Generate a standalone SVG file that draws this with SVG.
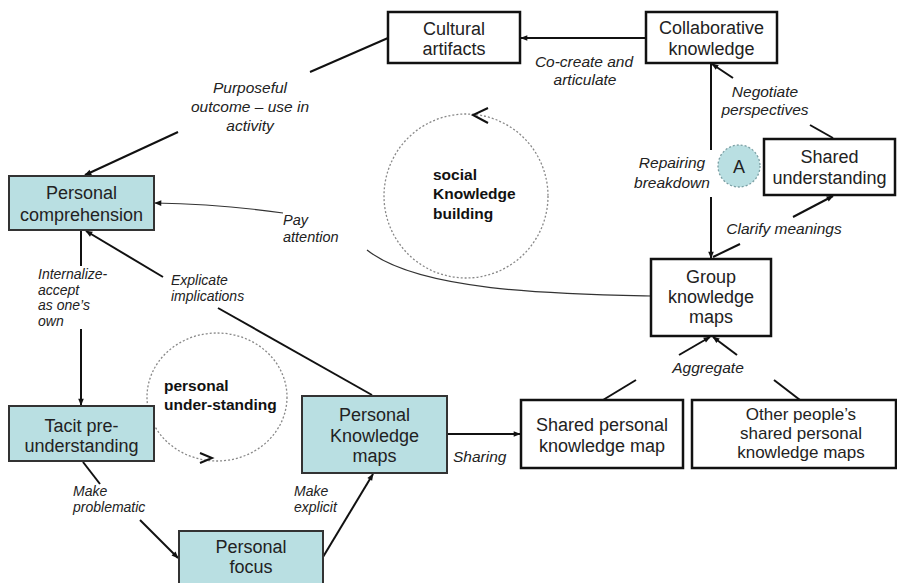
<svg xmlns="http://www.w3.org/2000/svg" width="897" height="583" viewBox="0 0 897 583">
<defs>
<marker id="ah" viewBox="0 0 10 10" refX="9" refY="5" markerWidth="8" markerHeight="7" markerUnits="userSpaceOnUse" orient="auto">
<path d="M0,1 L10,5 L0,9 Z" fill="#111"/>
</marker>
<style>
.wb{fill:#fff;stroke:#111;stroke-width:2.5}
.tb{fill:#b9dfe2;stroke:#333;stroke-width:2}
.nt{font-family:"Liberation Sans",Arial,sans-serif;font-size:18px;fill:#222;text-anchor:middle}
.lb{font-family:"Liberation Sans",Arial,sans-serif;font-size:15.5px;font-style:italic;fill:#222}
.tl{font-size:14px}
.c{text-anchor:middle}
.bd{font-family:"Liberation Sans",Arial,sans-serif;font-size:15.5px;font-weight:bold;fill:#111}
.ln{fill:none;stroke:#111;stroke-width:2}
.th{fill:none;stroke:#333;stroke-width:1.2}
.dc{fill:none;stroke:#888;stroke-width:1.3;stroke-dasharray:2,2}
</style>
</defs>
<rect width="897" height="583" fill="#fff"/>

<g id="connectors">
<line class="ln" x1="646" y1="38" x2="521" y2="38" marker-end="url(#ah)"/>
<line class="ln" x1="388" y1="38" x2="310" y2="72"/>
<line class="ln" x1="178" y1="132" x2="85" y2="175" marker-end="url(#ah)"/>
<line class="ln" x1="833" y1="138" x2="810" y2="125"/>
<line class="ln" x1="733" y1="78" x2="712" y2="64" marker-end="url(#ah)"/>
<line class="ln" x1="711" y1="63" x2="711" y2="150"/>
<line class="ln" x1="711" y1="197" x2="711" y2="258" marker-end="url(#ah)"/>
<line class="ln" x1="713" y1="257" x2="740" y2="244"/>
<line class="ln" x1="793" y1="217" x2="833" y2="196" marker-end="url(#ah)"/>
<path class="th" d="M651,296 C560,294 420,292 367,250"/>
<path class="th" d="M283,213 Q220,204 155,203" marker-end="url(#ah)"/>
<line class="ln" x1="372" y1="395" x2="218" y2="308"/>
<line class="ln" x1="163" y1="277" x2="86" y2="231" marker-end="url(#ah)"/>
<line class="ln" x1="81" y1="230" x2="81" y2="266"/>
<line class="ln" x1="81" y1="329" x2="81" y2="405" marker-end="url(#ah)"/>
<line class="ln" x1="83" y1="462" x2="100" y2="484"/>
<line class="ln" x1="140" y1="520" x2="178" y2="558" marker-end="url(#ah)"/>
<line class="ln" x1="323" y1="557" x2="373" y2="474" marker-end="url(#ah)"/>
<line class="ln" x1="447" y1="434" x2="520" y2="434" marker-end="url(#ah)"/>
<line class="ln" x1="603" y1="400" x2="636" y2="380"/>
<line class="ln" x1="679" y1="355" x2="710" y2="337" marker-end="url(#ah)"/>
<line class="ln" x1="800" y1="400" x2="774" y2="380"/>
<line class="ln" x1="737" y1="355" x2="713" y2="337" marker-end="url(#ah)"/>
</g>

<g id="labels">
<text class="lb c" x="584" y="67">Co-create and</text>
<text class="lb c" x="585" y="85">articulate</text>
<text class="lb c" x="250" y="93">Purposeful</text>
<text class="lb c" x="250" y="112">outcome – use in</text>
<text class="lb c" x="250" y="131">activity</text>
<text class="lb c" x="765" y="97">Negotiate</text>
<text class="lb c" x="765" y="115">perspectives</text>
<text class="lb c" x="672" y="168">Repairing</text>
<text class="lb c" x="672" y="188">breakdown</text>
<text class="lb c" x="784" y="234">Clarify meanings</text>
<text class="lb" x="283" y="225" style="font-size:14.5px">Pay</text>
<text class="lb" x="283" y="242" style="font-size:14.5px">attention</text>
<text class="lb tl" x="38" y="279">Internalize-</text>
<text class="lb tl" x="38" y="294.5">accept</text>
<text class="lb tl" x="38" y="310">as one’s</text>
<text class="lb tl" x="38" y="325.5">own</text>
<text class="lb tl" x="171" y="285">Explicate</text>
<text class="lb tl" x="171" y="301">implications</text>
<text class="lb tl" x="73" y="496">Make</text>
<text class="lb tl" x="73" y="512">problematic</text>
<text class="lb tl" x="294" y="496">Make</text>
<text class="lb tl" x="294" y="512">explicit</text>
<text class="lb c" x="708" y="373">Aggregate</text>
<text class="lb" x="453" y="462">Sharing</text>
</g>

<g id="social-cycle">
<circle class="dc" cx="466" cy="196" r="82"/>
<path d="M488,108 L473,115 L488,123" fill="none" stroke="#111" stroke-width="2"/>
<text class="bd" x="433" y="180">social</text>
<text class="bd" x="433" y="199">Knowledge</text>
<text class="bd" x="433" y="219">building</text>
</g>

<g id="personal-cycle">
<ellipse class="dc" cx="217" cy="397" rx="70" ry="64"/>
<path d="M200,453 L212,458 L200,463" fill="none" stroke="#111" stroke-width="2"/>
<text class="bd" x="164" y="391">personal</text>
<text class="bd" x="164" y="410">under-standing</text>
</g>

<g id="cultural-artifacts">
<rect class="wb" x="388" y="12" width="132" height="51"/>
<text class="nt" x="454" y="35">Cultural</text>
<text class="nt" x="454" y="55">artifacts</text>
</g>
<g id="collaborative-knowledge">
<rect class="wb" x="646" y="12" width="131" height="51"/>
<text class="nt" x="711.5" y="34">Collaborative</text>
<text class="nt" x="711.5" y="55">knowledge</text>
</g>
<g id="node-a">
<circle cx="739" cy="166" r="21" fill="#b9dfe2" stroke="#7a9ea3" stroke-width="1.3" stroke-dasharray="2,2"/>
<text class="nt" x="739" y="172.5">A</text>
</g>
<g id="shared-understanding">
<rect class="wb" x="764" y="139" width="131" height="56"/>
<text class="nt" x="829.5" y="163">Shared</text>
<text class="nt" x="829.5" y="184">understanding</text>
</g>
<g id="group-knowledge-maps">
<rect class="wb" x="651" y="259" width="120" height="77"/>
<text class="nt" x="711" y="283">Group</text>
<text class="nt" x="711" y="303">knowledge</text>
<text class="nt" x="711" y="323">maps</text>
</g>
<g id="shared-personal-map">
<rect class="wb" x="521" y="400" width="162" height="68"/>
<text class="nt" x="602" y="431">Shared personal</text>
<text class="nt" x="602" y="452">knowledge map</text>
</g>
<g id="other-peoples-maps">
<rect class="wb" x="692" y="400" width="204" height="68"/>
<text class="nt" x="801" y="420" style="font-size:17px">Other people’s</text>
<text class="nt" x="801" y="439" style="font-size:17px">shared personal</text>
<text class="nt" x="801" y="458" style="font-size:17px">knowledge maps</text>
</g>
<g id="personal-comprehension">
<rect class="tb" x="9" y="176" width="145" height="54"/>
<text class="nt" x="81.5" y="199">Personal</text>
<text class="nt" x="81.5" y="221">comprehension</text>
</g>
<g id="tacit-pre-understanding">
<rect class="tb" x="9" y="406" width="145" height="55"/>
<text class="nt" x="81.5" y="432">Tacit pre-</text>
<text class="nt" x="81.5" y="452">understanding</text>
</g>
<g id="personal-knowledge-maps">
<rect class="tb" x="302" y="396" width="145" height="77"/>
<text class="nt" x="374.5" y="421">Personal</text>
<text class="nt" x="374.5" y="442">Knowledge</text>
<text class="nt" x="374.5" y="462">maps</text>
</g>
<g id="personal-focus">
<rect class="tb" x="179" y="531" width="144" height="53"/>
<text class="nt" x="251" y="553">Personal</text>
<text class="nt" x="251" y="573">focus</text>
</g>
</svg>
